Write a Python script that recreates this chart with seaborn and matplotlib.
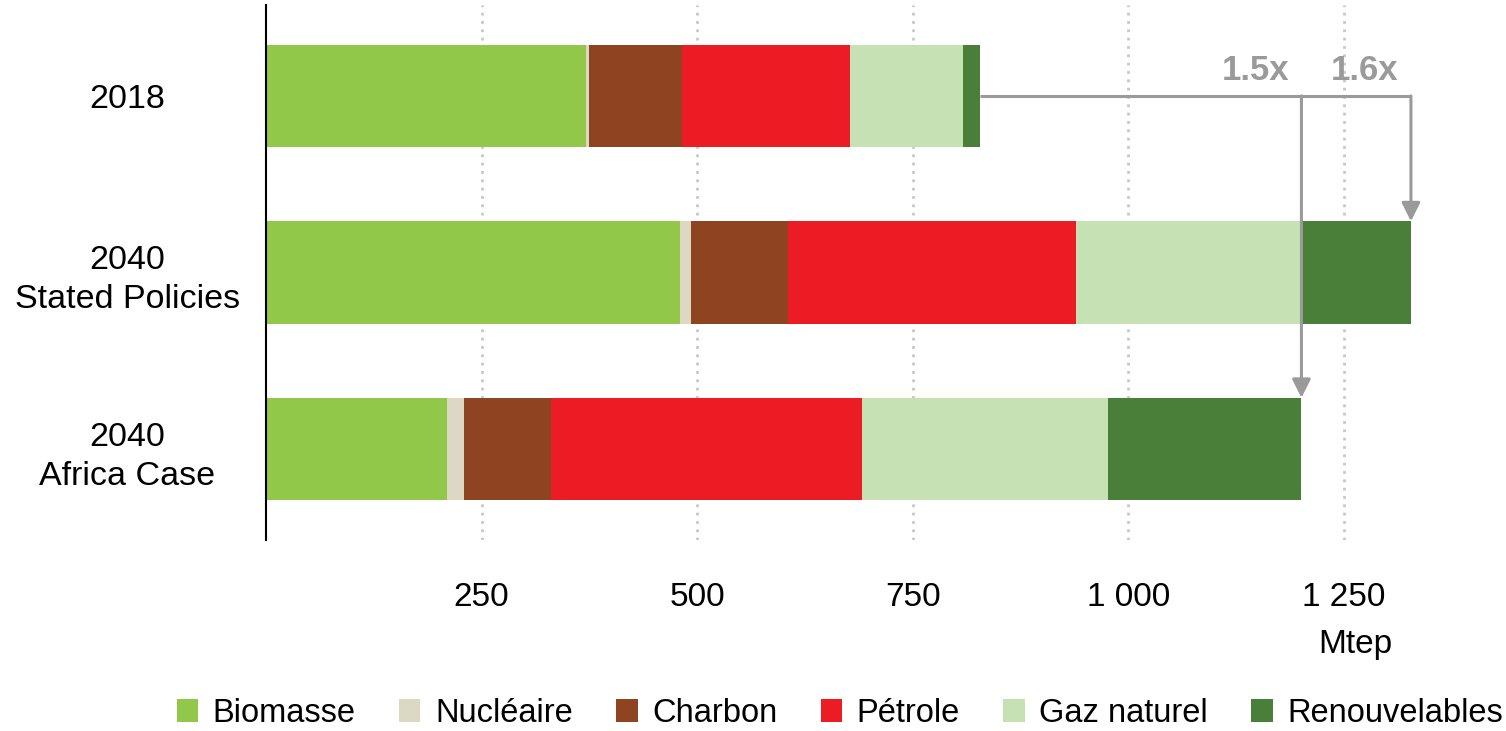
import numpy as np
import pandas as pd
import matplotlib
matplotlib.use("Agg")
import matplotlib.pyplot as plt
import matplotlib.transforms as mtransforms
from matplotlib.patches import Patch
import seaborn as sns

# ── data (Mtep) ─────────────────────────────────────────────────────────────
scenarios = ["2018", "2040\nStated Policies", "2040\nAfrica Case"]
sources = ["Biomasse", "Nucléaire", "Charbon", "Pétrole", "Gaz naturel", "Renouvelables"]
biomasse      = [371, 480, 210]
nucleaire     = [3.5, 12.5, 20]
charbon       = [107.5, 112.5, 100]
petrole       = [195, 335, 361]
gaz_naturel   = [131, 261, 286]
renouvelables = [20, 127, 224]
x_ticks = [250, 500, 750, 1000, 1250]
ratio_labels = ["1.6x", "1.5x"]

colors = ["#92C84A", "#DDD8C4", "#8E4420", "#EC1C24", "#C6E1B4", "#4A7F3A"]
grey = "#9A9A9A"

df = pd.DataFrame({"scenario": scenarios, "Biomasse": biomasse, "Nucléaire": nucleaire,
                   "Charbon": charbon, "Pétrole": petrole, "Gaz naturel": gaz_naturel,
                   "Renouvelables": renouvelables})
cum = df[sources].cumsum(axis=1)
totals = cum["Renouvelables"].values

# ── plot ────────────────────────────────────────────────────────────────────
sns.set_theme(style="white")
plt.rcParams["font.family"] = ["Liberation Sans", "DejaVu Sans"]
plt.rcParams["text.color"] = "black"
plt.rcParams["xtick.color"] = "black"
plt.rcParams["ytick.color"] = "black"

fig = plt.figure(figsize=(15.06, 7.31), dpi=100)
ax = fig.add_axes([266 / 1506, 1 - 540 / 731, (1473 - 266) / 1506, 535 / 731])

# draw cumulative bars from the last source backwards so they stack visually
for src, col in reversed(list(zip(sources, colors))):
    sns.barplot(x=cum[src], y=df["scenario"], color=col, width=0.58,
                orient="h", ax=ax, saturation=1, edgecolor="none", linewidth=0)

ax.set_xlim(0, 1400)
ax.set_ylim(2.515, -0.515)
ax.set_xlabel("")
ax.set_ylabel("")

ax.set_xticks(x_ticks)
ax.set_xticklabels([f"{v:,}".replace(",", " ") for v in x_ticks], fontsize=24)
ax.tick_params(axis="x", length=0, pad=30)
ax.tick_params(axis="y", length=0, pad=100)
for lbl in ax.get_yticklabels():
    lbl.set_ha("center")
    lbl.set_fontsize(24.5)
    lbl.set_linespacing(1.35)

for v in x_ticks:
    ax.axvline(v, color="#C8C8C8", lw=2, ls=(0, (1, 2)), zorder=0)

for s in ["top", "right", "bottom"]:
    ax.spines[s].set_visible(False)
ax.spines["left"].set_color("black")
ax.spines["left"].set_linewidth(1.5)

# growth arrows
y0 = 0
ax.plot([totals[0], totals[1]], [y0, y0], color=grey, lw=2.2, solid_capstyle="butt", zorder=3)
for i, lab in zip([1, 2], ratio_labels):
    ax.annotate("", xy=(totals[i], i - 0.29), xytext=(totals[i], y0),
                arrowprops=dict(arrowstyle="-|>", color=grey, lw=2.2,
                                mutation_scale=28, shrinkA=0, shrinkB=0), zorder=3)
    ax.text(totals[i] - 14, -0.145, lab, ha="right", va="center",
            fontsize=25, fontweight="bold", color=grey)

trans = mtransforms.blended_transform_factory(ax.transData, ax.transAxes)
ax.text(1263, -0.196, "Mtep", ha="center", va="center", fontsize=24, transform=trans)

handles = [Patch(facecolor=c, edgecolor="none", label=s) for s, c in zip(sources, colors)]
fig.legend(handles=handles, loc="center", bbox_to_anchor=(840 / 1506, 1 - 713 / 731),
           ncol=6, frameon=False, fontsize=23.5, handlelength=0.65, handleheight=0.7,
           handletextpad=0.45, columnspacing=1.33, borderaxespad=0)

fig.savefig("out.png", dpi=100)
